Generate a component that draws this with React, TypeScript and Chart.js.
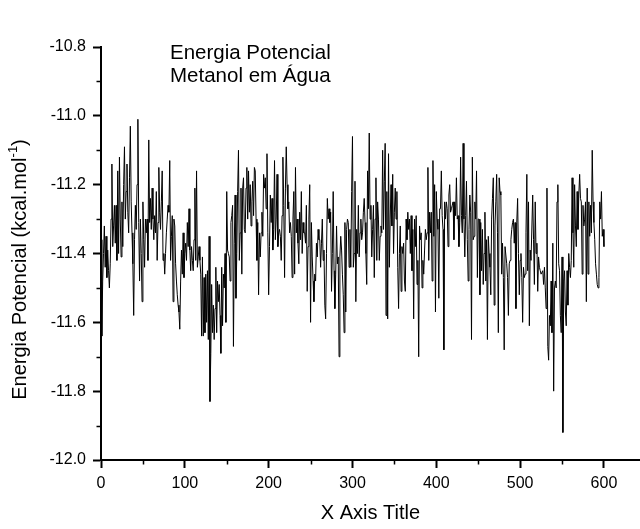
import React, { useEffect, useRef } from 'react';
import { Chart, registerables } from 'chart.js';

Chart.register(...registerables);

// Potential energy per step (kcal/mol)
const energy: number[] = [
  -11.36,-11.64,-11.48,-11.40,-11.32,-11.44,-11.35,-11.47,-11.39,-11.45,
  -11.50,-11.43,-11.30,-11.14,-11.38,-11.32,-11.26,-11.37,-11.26,-11.42,
  -11.16,-11.40,-11.12,-11.30,-11.41,-11.25,-11.38,-11.20,-11.09,-11.30,
  -11.22,-11.14,-11.28,-11.34,-11.18,-11.03,-11.25,-11.34,-11.43,-11.58,
  -11.36,-11.26,-11.33,-11.20,-11.01,-11.31,-11.48,-11.30,-11.40,-11.54,
  -11.25,-11.36,-11.44,-11.30,-11.34,-11.30,-11.42,
  -11.07,-11.31,-11.24,-11.33,-11.21,-11.30,-11.36,-11.29,-11.34,-11.22,
  -11.42,-11.31,-11.15,-11.28,-11.33,-11.25,-11.16,-11.42,-11.40,-11.46,
  -11.40,-11.34,-11.30,-11.26,-11.28,-11.13,-11.42,-11.35,-11.29,-11.54,
  -11.30,-11.32,-11.43,-11.48,-11.52,-11.55,-11.57,-11.62,-11.48,-11.39,
  -11.46,-11.34,-11.47,-11.40,-11.37,-11.42,-11.31,-11.38,-11.27,-11.39,
  -11.45,-11.38,-11.42,-11.45,-11.36,-11.21,-11.42,-11.16,-11.44,-11.41,
  -11.38,-11.42,-11.46,-11.64,
  -11.41,-11.64,-11.47,-11.63,-11.46,-11.60,-11.45,-11.65,-11.35,-11.83,
  -11.69,-11.49,-11.63,-11.55,-11.65,-11.56,-11.44,-11.63,-11.48,-11.54,
  -11.49,-11.58,-11.69,-11.44,-11.61,-11.46,-11.50,-11.40,-11.60,-11.22,
  -11.39,-11.40,-11.41,-11.48,-11.31,-11.29,-11.26,-11.67,-11.37,-11.23,
  -11.53,-11.40,-11.22,-11.10,-11.42,-11.34,-11.21,-11.46,-11.21,-11.18,
  -11.33,-11.34,-11.21,-11.15,-11.30,-11.16,-11.28,-11.20,-11.32,-11.25,
  -11.19,-11.29,
  -11.15,-11.16,-11.30,-11.42,-11.31,-11.52,-11.34,-11.41,-11.34,-11.28,
  -11.35,-11.17,-11.21,-11.18,-11.27,-11.11,-11.34,-11.52,-11.38,-11.23,
  -11.31,-11.24,-11.39,-11.33,-11.13,-11.36,-11.30,-11.17,-11.38,-11.34,
  -11.33,-11.35,-11.42,-11.29,-11.12,-11.26,-11.47,-11.21,-11.09,-11.20,
  -11.27,-11.25,-11.34,-11.31,-11.35,-11.47,-11.30,-11.22,-11.46,-11.15,
  -11.34,-11.30,-11.37,-11.43,-11.28,-11.36,-11.22,-11.40,-11.31,-11.34,
  -11.34,-11.37,-11.26,-11.51,-11.38,-11.30,-11.20,-11.60,-11.31,-11.41,
  -11.48,-11.54,-11.46,-11.48,-11.37,-11.41,-11.33,-11.36,-11.36,-11.44,
  -11.37,-11.30,-11.42,-11.39,-11.55,-11.59,-11.40,-11.24,-11.30,-11.27,
  -11.31,-11.28,-11.51,-11.40,-11.22,-11.45,-11.56,-11.46,-11.32,-11.43,
  -11.41,-11.70,-11.41,-11.35,-11.39,-11.46,-11.52,-11.63,-11.31,-11.57,
  -11.33,-11.30,-11.31,-11.44,-11.33,-11.44,-11.22,-11.06,-11.44,-11.40,
  -11.19,-11.54,-11.33,-11.40,
  -11.26,-11.41,-11.34,-11.30,-11.36,-11.34,-11.28,-11.24,-11.31,-11.40,
  -11.49,-11.16,-11.27,-11.05,-11.30,-11.26,-11.41,-11.33,-11.26,-11.47,
  -11.30,-11.18,-11.42,-11.25,-11.30,-11.42,-11.35,-11.32,-11.34,-11.10,
  -11.33,-11.19,-11.08,-11.58,-11.22,-11.59,-11.11,-11.44,-11.30,-11.20,
  -11.32,-11.17,-11.40,-11.28,-11.21,-11.30,-11.22,-11.44,-11.56,-11.40,
  -11.32,-11.51,-11.38,-11.40,-11.37,-11.48,-11.51,-11.30,-11.36,-11.28,
  -11.33,-11.30,
  -11.40,-11.29,-11.45,-11.33,-11.59,-11.30,-11.38,-11.29,-11.49,-11.42,
  -11.70,-11.32,-11.36,-11.34,-11.50,-11.42,-11.46,-11.39,-11.33,-11.36,
  -11.34,-11.15,-11.42,-11.28,-11.34,-11.28,-11.48,-11.13,-11.35,-11.20,
  -11.57,-11.22,-11.30,-11.33,-11.53,-11.27,-11.27,-11.16,-11.29,-11.33,
  -11.68,-11.25,-11.30,-11.25,-11.27,-11.38,-11.23,-11.20,-11.28,-11.27,
  -11.26,-11.25,-11.36,-11.25,-11.29,-11.18,-11.30,-11.29,-11.38,-11.31,
  -11.12,-11.29,
  -11.34,-11.08,-11.30,-11.41,-11.29,-11.19,-11.36,-11.48,-11.33,-11.23,
  -11.28,-11.65,-11.12,-11.36,-11.35,-11.25,-11.30,-11.16,-11.47,-11.30,
  -11.30,-11.52,-11.31,-11.45,-11.33,-11.49,-11.40,-11.28,-11.48,-11.36,
  -11.65,-11.35,-11.40,-11.44,-11.52,-11.30,-11.24,-11.18,-11.55,-11.32,
  -11.25,-11.17,-11.34,-11.63,-11.18,-11.22,-11.23,-11.46,-11.37,-11.47,
  -11.68,-11.38,-11.38,-11.43,-11.47,-11.58,-11.43,-11.42,-11.36,-11.33,
  -11.31,-11.30,
  -11.37,-11.31,-11.56,-11.31,-11.24,-11.40,-11.52,-11.42,-11.40,-11.47,
  -11.60,-11.44,-11.47,-11.46,-11.34,-11.17,-11.45,-11.25,-11.61,-11.39,
  -11.42,-11.42,-11.23,-11.36,-11.49,-11.25,-11.40,-11.37,-11.51,-11.41,
  -11.44,-11.45,-11.46,-11.46,-11.45,-11.49,-11.44,-11.50,-11.56,-11.21,
  -11.67,-11.71,-11.58,-11.61,-11.48,-11.63,-11.37,-11.80,-11.50,-11.48,
  -11.50,-11.25,-11.20,-11.43,-11.45,-11.58,-11.63,-11.41,-11.92,-11.48,
  -11.45,-11.57,
  -11.61,-11.45,-11.55,-11.40,-11.44,-11.47,-11.42,-11.18,-11.34,-11.44,
  -11.20,-11.32,-11.38,-11.22,-11.33,-11.23,-11.17,-11.24,-11.25,-11.46,
  -11.26,-11.32,-11.30,-11.25,-11.54,-11.21,-11.46,-11.25,-11.35,-11.26,
  -11.34,-11.10,-11.25,-11.31,-11.36,-11.43,-11.46,-11.49,-11.50,-11.47,
  -11.25,-11.30,-11.22,-11.35,-11.33,-11.38,
];

// step number for each sample
const steps: number[] = energy.map((_, i) => i);

const xMajorTicks = [0, 100, 200, 300, 400, 500, 600];
const xMinorTicks = [50, 150, 250, 350, 450, 550];
const yMajorTicks = [-12.0, -11.8, -11.6, -11.4, -11.2, -11.0, -10.8];
const yMinorTicks = [-11.9, -11.7, -11.5, -11.3, -11.1, -10.9];
const xRange = [0, 643];
const yRange = [-12.0, -10.8];

const annotationLines = ['Energia Potencial', 'Metanol em Água'];
const xTitle = 'X Axis Title';
const yTitleMain = 'Energia Potencial (kcal.mol';
const yTitleSup = '-1';
const yTitleEnd = ')';

const FONT = '"Liberation Sans", Arial, Helvetica, sans-serif';

export default function App() {
  const ref = useRef<HTMLCanvasElement>(null);

  useEffect(() => {
    const canvas = ref.current;
    if (!canvas) return;

    const extras = {
      id: 'extras',
      afterDraw(chart: any) {
        const { ctx, chartArea, scales } = chart;
        const xs = scales.x;
        const ys = scales.y;
        ctx.save();
        // minor ticks
        ctx.strokeStyle = '#000';
        ctx.lineWidth = 1.5;
        ctx.beginPath();
        xMinorTicks.forEach((v) => {
          const px = Math.round(xs.getPixelForValue(v)) + 0.5;
          ctx.moveTo(px, chartArea.bottom);
          ctx.lineTo(px, chartArea.bottom + 4.5);
        });
        yMinorTicks.forEach((v) => {
          const py = Math.round(ys.getPixelForValue(v)) + 0.5;
          ctx.moveTo(chartArea.left, py);
          ctx.lineTo(chartArea.left - 4.5, py);
        });
        ctx.stroke();

        // annotation text
        ctx.fillStyle = '#000';
        ctx.font = `20.5px ${FONT}`;
        ctx.textAlign = 'left';
        ctx.textBaseline = 'alphabetic';
        ctx.fillText(annotationLines[0], chartArea.left + 69, chartArea.top + 12);
        ctx.fillText(annotationLines[1], chartArea.left + 69, chartArea.top + 35);

        // y axis title with superscript
        const mainFont = `20px ${FONT}`;
        const supFont = `13px ${FONT}`;
        ctx.font = mainFont;
        const w1 = ctx.measureText(yTitleMain).width;
        const w3 = ctx.measureText(yTitleEnd).width;
        ctx.font = supFont;
        const w2 = ctx.measureText(yTitleSup).width;
        const total = w1 + w2 + w3;
        const cy = (chartArea.top + chartArea.bottom) / 2 + 16;
        ctx.translate(20, cy);
        ctx.rotate(-Math.PI / 2);
        ctx.textBaseline = 'middle';
        const start = -total / 2;
        ctx.font = mainFont;
        ctx.fillText(yTitleMain, start, 0);
        ctx.font = supFont;
        ctx.fillText(yTitleSup, start + w1, -7);
        ctx.font = mainFont;
        ctx.fillText(yTitleEnd, start + w1 + w2, 0);
        ctx.restore();
      },
    };

    const chart = new Chart(canvas, {
      type: 'line',
      data: {
        labels: steps,
        datasets: [
          {
            data: energy,
            borderColor: '#000',
            borderWidth: 1,
            pointRadius: 0,
            tension: 0,
            fill: false,
          },
        ],
      },
      options: {
        animation: false,
        responsive: false,
        layout: { padding: { top: 47, right: 0, bottom: 0, left: 0 } },
        plugins: {
          legend: { display: false },
          tooltip: { enabled: false },
        },
        scales: {
          x: {
            type: 'linear',
            min: xRange[0],
            max: xRange[1],
            afterBuildTicks: (s: any) => {
              s.ticks = xMajorTicks.map((v) => ({ value: v }));
            },
            afterFit: (s: any) => {
              s.height = 69;
            },
            grid: {
              drawOnChartArea: false,
              drawTicks: true,
              tickLength: 8,
              tickWidth: 2,
              tickColor: '#000',
            },
            border: { display: true, color: '#000', width: 2 },
            ticks: {
              color: '#000',
              font: { family: FONT, size: 16 },
              padding: 6,
              maxRotation: 0,
              autoSkip: false,
              callback: (v: any) => String(v),
            },
            title: {
              display: true,
              text: xTitle,
              color: '#000',
              font: { family: FONT, size: 20 },
              padding: { top: 0, bottom: 4 },
            },
          },
          y: {
            type: 'linear',
            min: yRange[0],
            max: yRange[1],
            afterBuildTicks: (s: any) => {
              s.ticks = yMajorTicks.map((v) => ({ value: v }));
            },
            afterFit: (s: any) => {
              s.width = 101;
            },
            grid: {
              drawOnChartArea: false,
              drawTicks: true,
              tickLength: 8,
              tickWidth: 2,
              tickColor: '#000',
            },
            border: { display: true, color: '#000', width: 2 },
            ticks: {
              color: '#000',
              font: { family: FONT, size: 16 },
              padding: 7,
              autoSkip: false,
              callback: (v: any) => Number(v).toFixed(1),
            },
          },
        },
      },
      plugins: [extras],
    } as any);

    return () => {
      chart.destroy();
    };
  }, []);

  return (
    <div style={{ position: 'absolute', left: 0, top: 0, width: 640, height: 529, background: '#fff' }}>
      <canvas ref={ref} width={640} height={529} style={{ display: 'block' }} />
    </div>
  );
}
